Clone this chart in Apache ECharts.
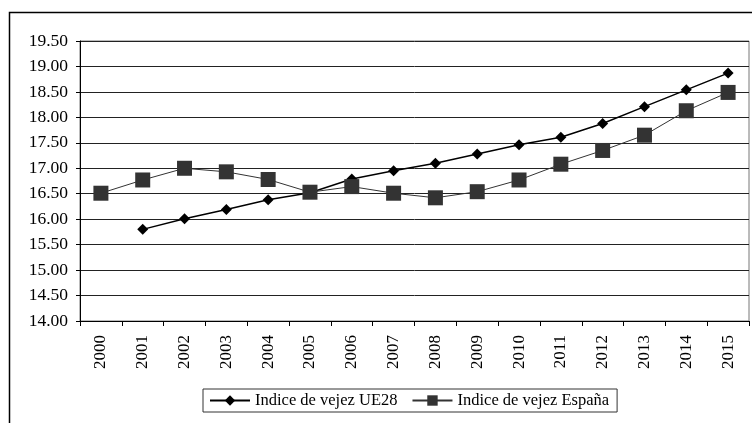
<!DOCTYPE html>
<html>
<head>
<meta charset="utf-8">
<script src="https://cdn.jsdelivr.net/npm/echarts@6/dist/echarts.min.js"></script>
<style>html,body{margin:0;padding:0;background:#fff}#c{width:752px;height:423px}</style>
</head>
<body>
<div id="c"></div>
<script>
var years = ['2000','2001','2002','2003','2004','2005','2006','2007','2008','2009','2010','2011','2012','2013','2014','2015'];
var ue28 = [null,15.80,16.01,16.19,16.38,16.52,16.79,16.95,17.10,17.28,17.46,17.61,17.88,18.21,18.54,18.87];
var espana = [16.51,16.77,17.00,16.93,16.78,16.53,16.64,16.51,16.42,16.54,16.77,17.08,17.35,17.65,18.13,18.49];
var seriesNames = ['Indice de vejez UE28','Indice de vejez España'];

var font = 'Liberation Serif, Times New Roman, serif';
var chart = echarts.init(document.getElementById('c'));
chart.setOption({
  animation: false,
  backgroundColor: '#fff',
  textStyle: {fontFamily: font, color: '#000'},
  graphic: [{
    type: 'rect', left: 7, top: 10, shape: {x: 0, y: 0, width: 760, height: 430},
    style: {fill: null, stroke: '#000', lineWidth: 1.5}, silent: true, z: -1
  }],
  grid: {left: 80, right: 3, top: 41, bottom: 102, show: true, borderColor: '#777', borderWidth: 1, backgroundColor: 'transparent'},
  legend: {
    left: 203, top: 389, width: 423, height: 24,
    padding: [3, 8, 3, 6],
    borderColor: '#333', borderWidth: 1,
    itemWidth: 40, itemHeight: 13, itemGap: 14,
    textStyle: {fontFamily: font, fontSize: 16.5, color: '#000'},
    data: seriesNames
  },
  xAxis: {
    type: 'category', data: years, boundaryGap: true,
    axisLine: {lineStyle: {color: '#000', width: 1}},
    axisTick: {show: true, alignWithLabel: false, length: 5, lineStyle: {color: '#000'}},
    axisLabel: {rotate: 90, fontFamily: font, fontSize: 17, color: '#000', margin: 14}
  },
  yAxis: {
    type: 'value', min: 14, max: 19.5, interval: 0.5,
    axisLine: {show: true, lineStyle: {color: '#000', width: 1}},
    axisTick: {show: true, length: 4, lineStyle: {color: '#000'}},
    axisLabel: {fontFamily: font, fontSize: 17.5, color: '#000', margin: 12, formatter: function(v){return v.toFixed(2);}},
    splitLine: {lineStyle: {color: '#222', width: 1}}
  },
  series: [
    {
      name: seriesNames[0], type: 'line', data: ue28, connectNulls: false,
      symbol: 'diamond', symbolSize: 11,
      lineStyle: {color: '#000', width: 1.5},
      itemStyle: {color: '#000'}
    },
    {
      name: seriesNames[1], type: 'line', data: espana,
      symbol: 'rect', symbolSize: 15,
      lineStyle: {color: '#333', width: 1},
      itemStyle: {color: '#333'}
    }
  ]
});
</script>
</body>
</html>
